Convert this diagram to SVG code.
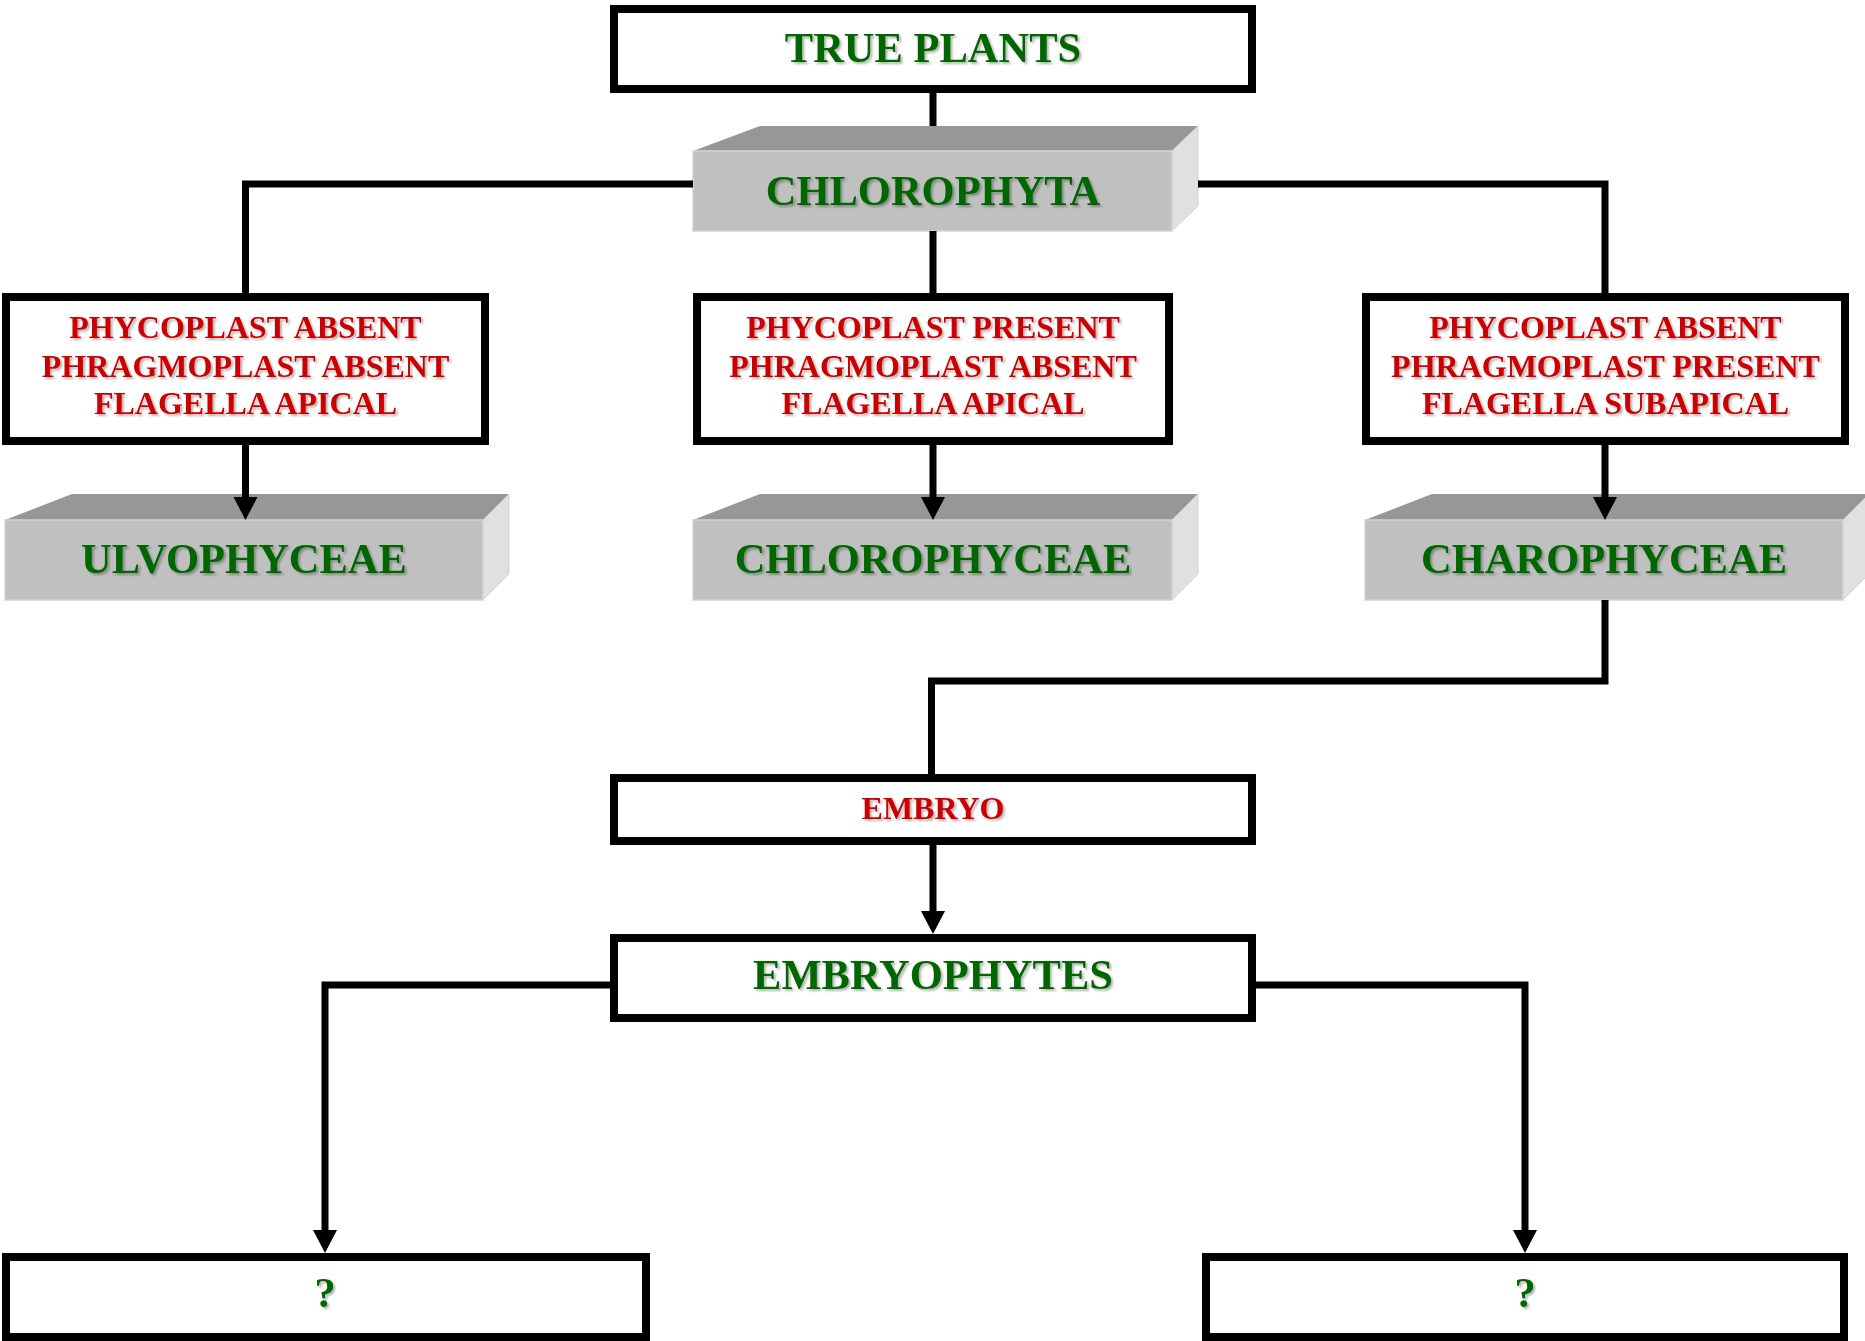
<svg xmlns="http://www.w3.org/2000/svg" width="1865" height="1341" viewBox="0 0 1865 1341">
<defs>
<filter id="sh" x="-5%" y="-20%" width="110%" height="150%">
<feDropShadow dx="2" dy="2" stdDeviation="1" flood-color="#000" flood-opacity="0.3"/>
</filter>
<marker id="arr" markerUnits="userSpaceOnUse" markerWidth="24" markerHeight="26" refX="0" refY="13" orient="auto" viewBox="0 0 24 26">
<path d="M0,1 L23,13 L0,25 z" fill="#000"/>
</marker>
</defs>
<style>
.box{fill:#fff;stroke:#000;stroke-width:8}
.top{fill:#979797}
.front{fill:#c0c0c0;stroke:#d4d4d4;stroke-width:1.5}
.side{fill:#e0e0e0;stroke:#d4d4d4;stroke-width:1}
.g{font-family:"Liberation Serif","Times New Roman",serif;font-weight:bold;font-size:42.5px;fill:#006600;text-anchor:middle;filter:url(#sh)}
.r{font-family:"Liberation Serif","Times New Roman",serif;font-weight:bold;font-size:32px;fill:#cc0000;text-anchor:middle;filter:url(#sh)}
.c{fill:none;stroke:#000;stroke-width:7}
.ca{fill:none;stroke:#000;stroke-width:7;marker-end:url(#arr)}
</style>
<g id="true-plants">
<rect class="box" x="614" y="9" width="638" height="80"/>
<text class="g" x="933" y="62">TRUE PLANTS</text>
</g>
<g id="chlorophyta">
<polygon class="top" points="693,151 760,126 1198,126 1172,151"/>
<polygon class="side" points="1172,151 1198,126 1198,206 1172,231"/>
<rect class="front" x="693" y="151" width="479" height="80"/>
<text class="g" x="933" y="205">CHLOROPHYTA</text>
</g>
<g id="criteria-left">
<rect class="box" x="6" y="297" width="479" height="144"/>
<text class="r" x="245.5" y="338">PHYCOPLAST ABSENT</text>
<text class="r" x="245.5" y="377">PHRAGMOPLAST ABSENT</text>
<text class="r" x="245.5" y="414">FLAGELLA APICAL</text>
</g>
<g id="criteria-middle">
<rect class="box" x="697" y="297" width="472" height="144"/>
<text class="r" x="933" y="338">PHYCOPLAST PRESENT</text>
<text class="r" x="933" y="377">PHRAGMOPLAST ABSENT</text>
<text class="r" x="933" y="414">FLAGELLA APICAL</text>
</g>
<g id="criteria-right">
<rect class="box" x="1366" y="297" width="479" height="144"/>
<text class="r" x="1605.5" y="338">PHYCOPLAST ABSENT</text>
<text class="r" x="1605.5" y="377">PHRAGMOPLAST PRESENT</text>
<text class="r" x="1605.5" y="414">FLAGELLA SUBAPICAL</text>
</g>
<g id="ulvophyceae">
<polygon class="top" points="5,520 72,494 509,494 483,520"/>
<polygon class="side" points="483,520 509,494 509,574 483,600"/>
<rect class="front" x="5" y="520" width="478" height="80"/>
<text class="g" x="244" y="573">ULVOPHYCEAE</text>
</g>
<g id="chlorophyceae">
<polygon class="top" points="693,520 760,494 1198,494 1172,520"/>
<polygon class="side" points="1172,520 1198,494 1198,574 1172,600"/>
<rect class="front" x="693" y="520" width="479" height="80"/>
<text class="g" x="933" y="573">CHLOROPHYCEAE</text>
</g>
<g id="charophyceae">
<polygon class="top" points="1365,520 1432,494 1869,494 1843,520"/>
<polygon class="side" points="1843,520 1869,494 1869,574 1843,600"/>
<rect class="front" x="1365" y="520" width="478" height="80"/>
<text class="g" x="1604" y="573">CHAROPHYCEAE</text>
</g>
<g id="embryo">
<rect class="box" x="614" y="778" width="638" height="63"/>
<text class="r" x="933" y="819">EMBRYO</text>
</g>
<g id="embryophytes">
<rect class="box" x="614" y="938" width="638" height="80"/>
<text class="g" x="933" y="989">EMBRYOPHYTES</text>
</g>
<g id="unknown-left">
<rect class="box" x="6" y="1257" width="640" height="80"/>
<text class="g" x="325" y="1307">?</text>
</g>
<g id="unknown-right">
<rect class="box" x="1206" y="1257" width="638" height="80"/>
<text class="g" x="1525" y="1307">?</text>
</g>
<g id="connectors">
<path class="c" d="M933,93 V126"/>
<path class="c" d="M693,184 H245.5 V293"/>
<path class="c" d="M1198,184 H1605 V293"/>
<path class="c" d="M933,231 V293"/>
<path class="ca" d="M245.5,445 V497"/>
<path class="ca" d="M933,445 V497"/>
<path class="ca" d="M1605,445 V497"/>
<path class="c" d="M1605,600 V681 H931.5 V774"/>
<path class="ca" d="M933,845 V911"/>
<path class="ca" d="M610,985 H325 V1230"/>
<path class="ca" d="M1256,985 H1525 V1230"/>
</g>
</svg>
